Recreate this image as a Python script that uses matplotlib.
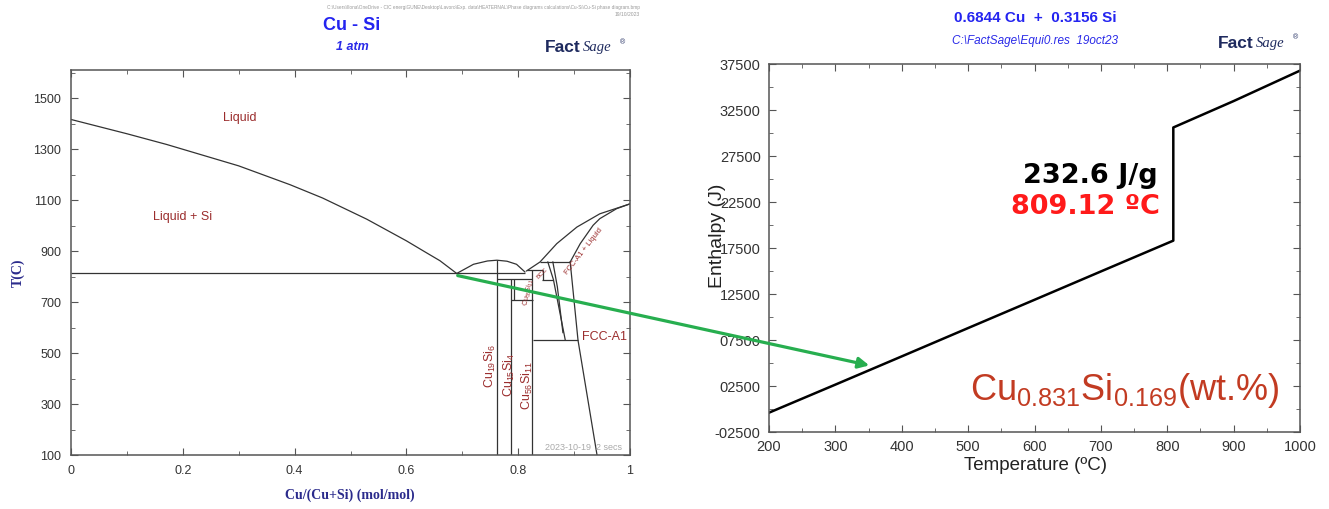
import matplotlib
matplotlib.use("Agg")
import matplotlib.pyplot as plt
from matplotlib.ticker import MultipleLocator, FixedLocator

plt.rcParams['font.family'] = ['Liberation Sans', 'DejaVu Sans']
plt.rcParams['mathtext.default'] = 'regular'

# --- diagramme de phases Cu-Si ---
si_liq_x = [0.0, 0.1, 0.171, 0.3, 0.392, 0.45, 0.529, 0.6, 0.636, 0.66, 0.69]
si_liq_t = [1416, 1360, 1318, 1234, 1160, 1108, 1025, 940, 893, 862, 812]

eta_liq_x = [0.69, 0.72, 0.745, 0.762, 0.78, 0.797, 0.812]
eta_liq_t = [812, 848, 861, 864, 860, 848, 818]

fcc_liq_x = [0.815, 0.839, 0.869, 0.905, 0.946, 1.0]
fcc_liq_t = [822, 857, 929, 994, 1046, 1085]
fcc_sol_x = [0.893, 0.911, 0.934, 0.946, 0.976, 1.0]
fcc_sol_t = [857, 929, 1001, 1027, 1066, 1085]
fcc_solvus_x = [0.893, 0.907, 0.941]
fcc_solvus_t = [857, 550, 100]

kappa1_x = [0.853, 0.863, 0.884]
kappa1_t = [857, 788, 553]
kappa2_x = [0.862, 0.870, 0.880]
kappa2_t = [857, 760, 580]

# isothermes : x debut, x fin, T
iso_x0 = [0.0, 0.762, 0.788, 0.839, 0.815, 0.842, 0.826]
iso_x1 = [0.812, 0.824, 0.826, 0.893, 0.845, 0.863, 0.907]
iso_t = [812, 789, 707, 857, 824, 788, 550]

# composes : x, T bas, T haut
comp_x = [0.762, 0.788, 0.792, 0.824, 0.845]
comp_t0 = [100, 100, 707, 100, 788]
comp_t1 = [864, 789, 789, 824, 824]

left_xticks = [0, 0.2, 0.4, 0.6, 0.8, 1]
left_xlabels = ['0', '0.2', '0.4', '0.6', '0.8', '1']
left_yticks = [100, 300, 500, 700, 900, 1100, 1300, 1500]

# --- enthalpie (courbe de droite) ---
temp_c = [200, 300, 400, 500, 600, 700, 809.12, 809.12, 900, 1000]
enthalpy = [-400, 2650, 5720, 8800, 11870, 14950, 18300, 30600, 33470, 36780]
right_yticks = [-2500, 2500, 7500, 12500, 17500, 22500, 27500, 32500, 37500]
right_ylabels = ['-02500', '02500', '07500', '12500', '17500', '22500', '27500', '32500', '37500']

W, H = 1329, 509
fig = plt.figure(figsize=(W / 100, H / 100), dpi=100)


def fx(px):
    return px / W


def fy(py):
    return 1 - py / H


def style_axes(ax, size):
    for s in ax.spines.values():
        s.set_color('#555555')
        s.set_linewidth(1.1)
    ax.tick_params(which='both', direction='in', top=True, right=True, color='#555555')
    ax.tick_params(which='major', length=5, labelsize=size, labelcolor='#333333')
    ax.tick_params(which='minor', length=3)


# ---------------- panneau gauche ----------------
ax1 = fig.add_axes([fx(71), fy(455), fx(630) - fx(71), fy(70) - fy(455)])
lc = '#333333'
ax1.plot(si_liq_x, si_liq_t, color=lc, lw=0.9)
ax1.plot(eta_liq_x, eta_liq_t, color=lc, lw=0.9)
ax1.plot(fcc_liq_x, fcc_liq_t, color=lc, lw=0.9)
ax1.plot(fcc_sol_x, fcc_sol_t, color=lc, lw=0.9)
ax1.plot(fcc_solvus_x, fcc_solvus_t, color=lc, lw=0.9)
ax1.plot(kappa1_x, kappa1_t, color=lc, lw=0.9)
ax1.plot(kappa2_x, kappa2_t, color=lc, lw=0.9)
ax1.hlines(iso_t, iso_x0, iso_x1, color=lc, lw=0.9)
ax1.vlines(comp_x, comp_t0, comp_t1, color=lc, lw=0.9)

ax1.set_xlim(0, 1)
ax1.set_ylim(100, 1610)
ax1.xaxis.set_major_locator(FixedLocator(left_xticks))
ax1.set_xticklabels(left_xlabels)
ax1.xaxis.set_minor_locator(MultipleLocator(0.1))
ax1.yaxis.set_major_locator(FixedLocator(left_yticks))
ax1.yaxis.set_minor_locator(MultipleLocator(100))
style_axes(ax1, 9)
ax1.tick_params(axis='x', pad=7)
ax1.tick_params(axis='y', pad=7)

red = '#9b2d2d'
ax1.text(0.302, 1420, 'Liquid', color=red, fontsize=9, ha='center', va='center')
ax1.text(0.2, 1032, 'Liquid + Si', color=red, fontsize=9, ha='center', va='center')
ax1.text(0.914, 562, 'FCC-A1', color=red, fontsize=9, ha='left', va='center')
ax1.text(0.750, 450, 'Cu$_{19}$Si$_6$', color=red, fontsize=9, rotation=90, ha='center', va='center')
ax1.text(0.785, 412, 'Cu$_{15}$Si$_4$', color=red, fontsize=9, rotation=90, ha='center', va='center')
ax1.text(0.817, 372, 'Cu$_{56}$Si$_{11}$', color=red, fontsize=9, rotation=90, ha='center', va='center')
ax1.text(0.917, 900, 'FCC-A1 + Liquid', color=red, fontsize=5.5, rotation=52, ha='center', va='center')
ax1.text(0.820, 740, 'Cu$_{56}$Si$_{11}$', color=red, fontsize=5, rotation=78, ha='center', va='center')
ax1.text(0.843, 812, 'BCC', color=red, fontsize=4.5, rotation=45, ha='center', va='center')
ax1.text(0.985, 128, '2023-10-19  2 secs', color='#aaaaaa', fontsize=6.5, ha='right', va='center')

fig.text(fx(18), fy(273), 'T(C)', rotation=90, ha='center', va='center', fontsize=10,
         fontweight='bold', family='Liberation Serif', color='#2b2b8c')
fig.text(fx(350), fy(495), 'Cu/(Cu+Si) (mol/mol)', ha='center', va='center', fontsize=10,
         fontweight='bold', family='Liberation Serif', color='#2b2b8c')

fig.text(fx(640), fy(7), 'C:\\Users\\Ilona\\OneDrive - CIC energiGUNE\\Desktop\\Lavoro\\Exp. data\\HEATERNAL\\Phase diagrams calculations\\Cu-Si\\Cu-Si phase diagram.bmp',
         ha='right', va='center', fontsize=3.4, color='#999999')
fig.text(fx(640), fy(15), '19/10/2023', ha='right', va='center', fontsize=3.6, color='#999999')
fig.text(fx(352), fy(26), 'Cu - Si', ha='center', va='center', fontsize=13, fontweight='bold', color='#2424f0')
fig.text(fx(352), fy(47), '1 atm', ha='center', va='center', fontsize=9, fontstyle='italic',
         fontweight='bold', color='#2a2ae8')


def logo(px, py):
    fig.text(fx(px), fy(py), 'Fact', ha='left', va='center', fontsize=12.5, fontweight='bold',
             color='#1e2a5e')
    fig.text(fx(px + 38), fy(py), 'Sage', ha='left', va='center', fontsize=10.5, fontstyle='italic',
             family='Liberation Serif', color='#1e2a5e')
    fig.text(fx(px + 75), fy(py - 5), '®', ha='left', va='center', fontsize=5, color='#1e2a5e')


logo(545, 48)
logo(1218, 43)

# ---------------- panneau droit ----------------
ax2 = fig.add_axes([fx(769), fy(432), fx(1300) - fx(769), fy(64) - fy(432)])
ax2.plot(temp_c, enthalpy, color='black', lw=1.8)
ax2.set_xlim(200, 1000)
ax2.set_ylim(-2500, 37500)
ax2.xaxis.set_major_locator(MultipleLocator(100))
ax2.xaxis.set_minor_locator(MultipleLocator(50))
ax2.yaxis.set_major_locator(FixedLocator(right_yticks))
ax2.set_yticklabels(right_ylabels)
ax2.yaxis.set_minor_locator(MultipleLocator(2500))
style_axes(ax2, 10.5)
ax2.tick_params(axis='x', pad=6)
ax2.tick_params(axis='y', pad=6)

fig.text(fx(717), fy(236), 'Enthalpy (J)', rotation=90, ha='center', va='center', fontsize=14,
         color='#222222')
fig.text(fx(1035), fy(466), 'Temperature (ºC)', ha='center', va='center', fontsize=13.5,
         color='#222222')
fig.text(fx(1035), fy(18), '0.6844 Cu  +  0.3156 Si', ha='center', va='center', fontsize=11,
         fontweight='bold', color='#2424f0')
fig.text(fx(1035), fy(41), 'C:\\FactSage\\Equi0.res  19oct23', ha='center', va='center', fontsize=8.5,
         fontstyle='italic', color='#2a2ae8')

ax2.text(fx(1158), fy(176), '232.6 J/g', transform=fig.transFigure, ha='right', va='center',
         fontsize=19.5, fontweight='bold', family='DejaVu Sans', color='black')
ax2.text(fx(1160), fy(207), '809.12 ºC', transform=fig.transFigure, ha='right', va='center',
         fontsize=19.5, fontweight='bold', family='DejaVu Sans', color='#ff1a1a')
fig.text(fx(970), fy(400), 'Cu$_{0.831}$Si$_{0.169}$(wt.%)', ha='left', va='baseline',
         fontsize=26, color='#c23b22')

# fleche verte entre les deux panneaux
fig.add_artist(matplotlib.patches.FancyArrowPatch(
    (fx(455), fy(275)), (fx(872), fy(366)), transform=fig.transFigure,
    arrowstyle='-|>', mutation_scale=16, lw=2.3, color='#27ae4f'))

fig.savefig('out.png', dpi=100)
